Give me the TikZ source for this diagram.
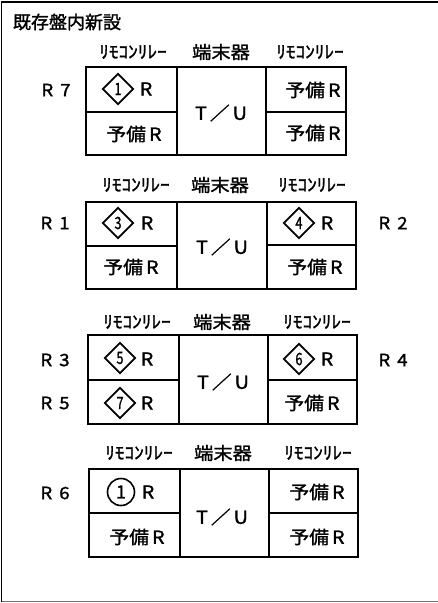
\documentclass[tikz,border=0pt]{standalone}
\usepackage{fontspec}
\usetikzlibrary{shapes.geometric}
\newfontfamily\jp{Noto Sans CJK JP}[FakeStretch=1.1,FakeBold=1.5]
\newfontfamily\jptitle{Noto Sans CJK JP}[FakeBold=1.5]
\newfontfamily\jpdig{Noto Sans CJK JP}[FakeStretch=0.75,FakeBold=1]
\tikzset{
  box/.style={line width=1.6pt},
  frame/.style={line width=1.8pt},
  hdr/.style={font=\jp\fontsize{17.5}{17.5}\selectfont, inner sep=0pt},
  txt/.style={font=\jp\fontsize{18}{18}\selectfont, inner sep=0pt},
  rlab/.style={font=\jp\fontsize{17}{17}\selectfont, inner sep=0pt},
  dia/.style={diamond, draw, line width=1.7pt, inner sep=0pt, minimum width=31pt, minimum height=31pt, font=\jpdig\fontsize{17}{17}\selectfont},
  circ/.style={circle, draw, line width=1.6pt, inner sep=0pt, minimum size=27pt, font=\jptitle\fontsize{18}{18}\selectfont},
}
\newcommand\hk{ﾘﾓｺﾝﾘﾚｰ}
\newcommand\yobi{予備\,R}
\newcommand\tu{T\,／\,U}
\begin{document}
\begin{tikzpicture}[x=1pt,y=-1pt]
\useasboundingbox (0,0) rectangle (438,603);
% frame
\draw[frame] (438,2) -- (1.5,2) -- (1.5,601.5);
\draw[line width=1.2pt, black!55] (1.5,601.5) -- (438,601.5);
\node[font=\jptitle\fontsize{18}{18}\selectfont, inner sep=0pt] (title) at (67,22) {既存盤内新設};

% ---------- block 1 ----------
\node[hdr] (h1a) at (133,52) {\hk};
\node[hdr] (h1b) at (221,52) {端末器};
\node[hdr] (h1c) at (310,52) {\hk};
\draw[box] (86,67) rectangle (346,155);
\draw[box] (177,67) -- (177,155) (266,67) -- (266,155);
\draw[box] (86,112) -- (177,112) (266,112) -- (346,112);
\node[rlab] (r7) at (56,90) {R\hspace{7pt}7};
\node[dia] (d1a) at (118,89) {1};
\node[txt] (d1aR) at (146,89) {R};
\node[txt] (y1a) at (134,134) {\yobi};
\node[txt] (tu1) at (221,113) {\tu};
\node[txt] (y1b) at (313,90) {\yobi};
\node[txt] (y1c) at (313,133) {\yobi};

% ---------- block 2 ----------
\node[hdr] (h2a) at (136,185) {\hk};
\node[hdr] (h2b) at (220,185) {端末器};
\node[hdr] (h2c) at (312,185) {\hk};
\draw[box] (86,202) rectangle (356,289);
\draw[box] (177,202) -- (177,289) (267,202) -- (267,289);
\draw[box] (86,246) -- (177,246) (267,245) -- (356,245);
\node[rlab] (r1) at (55,223) {R\hspace{7pt}1};
\node[dia] (d2a) at (118,223) {3};
\node[txt] (d2aR) at (147,223) {R};
\node[txt] (y2a) at (131,267) {\yobi};
\node[txt] (tu2) at (222,247) {\tu};
\node[dia] (d2b) at (299,223) {4};
\node[txt] (d2bR) at (327,223) {R};
\node[txt] (y2b) at (315,267) {\yobi};
\node[rlab] (r2) at (393,223) {R\hspace{7pt}2};

% ---------- block 3 ----------
\node[hdr] (h3a) at (137,322) {\hk};
\node[hdr] (h3b) at (222,322) {端末器};
\node[hdr] (h3c) at (317,322) {\hk};
\draw[box] (88,335) rectangle (357,424);
\draw[box] (179,335) -- (179,424) (268,335) -- (268,424);
\draw[box] (88,380) -- (179,380) (268,380) -- (357,380);
\node[rlab] (r3) at (55,360) {R\hspace{7pt}3};
\node[rlab] (r5) at (55,403) {R\hspace{7pt}5};
\node[dia] (d3a) at (120,358) {5};
\node[txt] (d3aR) at (147,359) {R};
\node[dia] (d3b) at (120,403) {7};
\node[txt] (d3bR) at (147,403) {R};
\node[txt] (tu3) at (223,382) {\tu};
\node[dia] (d3c) at (299,359) {6};
\node[txt] (d3cR) at (327,359) {R};
\node[txt] (y3a) at (312,403) {\yobi};
\node[rlab] (r4) at (393,360) {R\hspace{7pt}4};

% ---------- block 4 ----------
\node[hdr] (h4a) at (139,453) {\hk};
\node[hdr] (h4b) at (223,453) {端末器};
\node[hdr] (h4c) at (318,453) {\hk};
\draw[box] (89,469) rectangle (358,557);
\draw[box] (180,469) -- (180,557) (269,469) -- (269,557);
\draw[box] (89,513) -- (180,513) (269,513) -- (358,513);
\node[rlab] (r6) at (55,493) {R\hspace{7pt}6};
\node[circ] (c4a) at (121,492) {1};
\node[txt] (c4aR) at (148,492) {R};
\node[txt] (y4a) at (137,537) {\yobi};
\node[txt] (tu4) at (222,517) {\tu};
\node[txt] (y4b) at (317,492) {\yobi};
\node[txt] (y4c) at (317,537) {\yobi};
\end{tikzpicture}
\end{document}
